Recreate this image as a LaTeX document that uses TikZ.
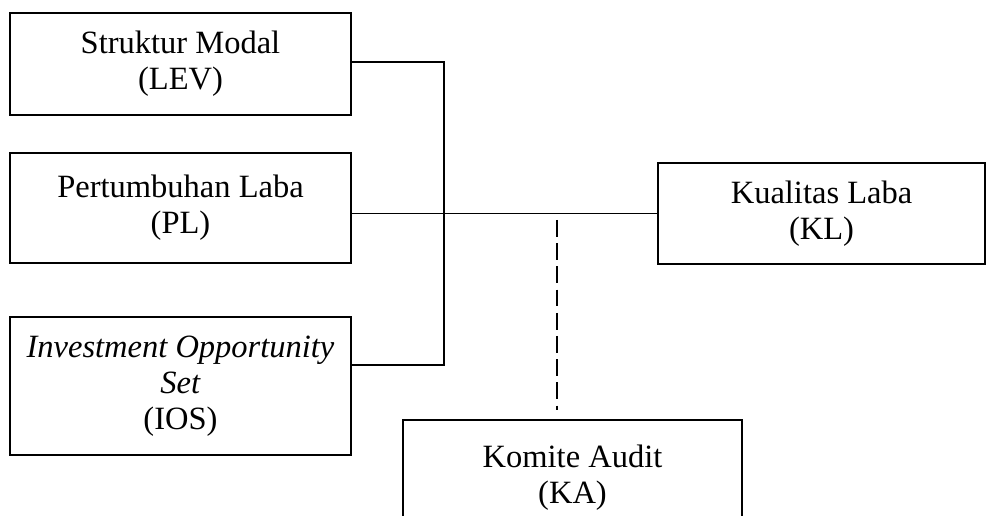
\documentclass[tikz,border=0pt]{standalone}
\usepackage{fontspec}
\setmainfont{Liberation Serif}
\tikzset{
	var/.style={draw, line width=1.1pt, align=center, font=\fontsize{18.5}{20.5}\selectfont, inner sep=0pt},
	link/.style={line width=1.1pt}
}
\begin{document}
\begin{tikzpicture}[x=0.02cm, y=-0.02cm]
	\useasboundingbox (0,0) rectangle (986,516);
	\clip (0,0) rectangle (986,516);
	\node [var, minimum width=6.82cm, minimum height=2.04cm] (lev) at (180.5,64) {Struktur Modal\\(LEV)};
	\node [var, minimum width=6.82cm, minimum height=2.2cm] (pl) at (180.5,208) {Pertumbuhan Laba\\(PL)};
	\node [var, minimum width=6.82cm, minimum height=2.76cm] (ios) at (180.5,386) {\textit{Investment Opportunity}\\\textit{Set}\\(IOS)};
	\node [var, minimum width=6.54cm, minimum height=2.02cm] (kl) at (821.5,213.5) {Kualitas Laba\\(KL)};
	\node [var, minimum width=6.78cm, minimum height=2.3cm, anchor=north] (ka) at (572.5,419) {Komite Audit\\(KA)};

	\coordinate (top) at (444,62);
	\coordinate (bot) at (444,365);
	\coordinate (mod) at (557,220);
	\coordinate (modend) at (557,410);

	\draw [link] (lev.east |- top) -- (top) -- (bot) -- (ios.east |- bot);
	\draw [link] (pl.east |- kl.west) -- (kl.west);
	\draw [link, dash pattern=on 9.6pt off 3.6pt] (mod) -- (modend);
\end{tikzpicture}
\end{document}
